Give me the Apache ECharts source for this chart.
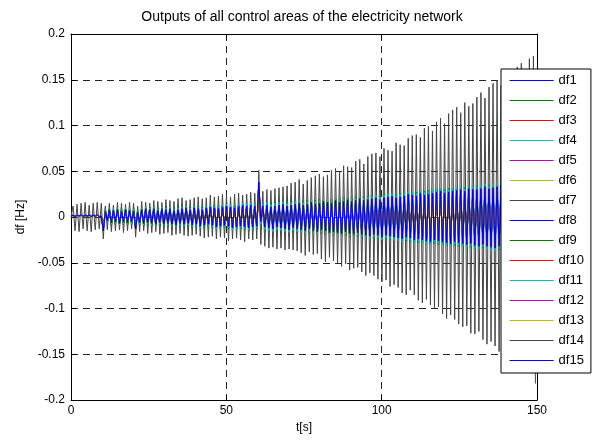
<!DOCTYPE html>
<html>
<head>
<meta charset="utf-8">
<script src="https://cdn.jsdelivr.net/npm/echarts@6/dist/echarts.min.js"></script>
<style>
html,body{margin:0;padding:0;background:#fff;}
#chart{width:593px;height:440px;}
</style>
</head>
<body>
<div id="chart"></div>
<script>
// sampling step of the traces (s)
const tStep = 0.65;
const xTicks = [0, 50, 100, 150];
const yTicks = [-0.2, -0.15, -0.1, -0.05, 0, 0.05, 0.1, 0.15, 0.2];
const seriesNames = ['df1','df2','df3','df4','df5','df6','df7','df8','df9','df10','df11','df12','df13','df14','df15'];
const seriesColors = ['#0000ff','#008000','#ff0000','#00bfbf','#bf00bf','#bfbf00','#454545','#0000ff','#008000','#ff0000','#00bfbf','#bf00bf','#bfbf00','#454545','#0000ff'];

// large growing oscillation (dark trace)
const dfBig = [
0,.012,-.015,.014,-.016,.015,-.013,.016,-.015,.013,
-.016,.015,-.014,.016,-.013,.015,-.024,.012,-.014,.015,
-.016,.013,-.015,.016,-.014,.015,-.017,.014,-.015,.016,
-.013,.015,-.022,.012,-.016,.017,-.015,.016,-.018,.015,
-.017,.018,-.016,.017,-.019,.016,-.018,.019,-.017,.018,
-.02,.017,-.019,.02,-.018,.021,-.02,.018,-.021,.019,
-.02,.021,-.019,.022,-.021,.02,-.023,.021,-.022,.024,
-.021,.022,-.024,.023,-.022,.025,-.023,.024,-.026,.022,
-.024,.025,-.023,.026,-.025,.024,-.027,.025,-.024,.027,
-.025,.026,-.024,.051,-.03,.028,-.032,.03,-.034,.029,
-.033,.031,-.035,.032,-.034,.033,-.036,.034,-.035,.037,
-.036,.038,-.037,.041,-.039,.036,-.042,.04,-.038,.043,
-.041,.045,-.04,.047,-.046,.044,-.049,.046,-.044,.051,
-.048,.053,-.05,.049,-.054,.056,-.051,.055,-.058,.054,
-.056,.061,-.055,.063,-.06,.058,-.064,.066,-.061,.069,
-.064,.07,-.068,.066,-.071,.075,-.069,.073,-.076,.072,
-.074,.081,-.077,.079,-.083,.078,-.085,.086,-.08,.089,
-.085,.09,-.091,.087,-.094,.097,-.09,.099,-.096,.094,
-.1,.104,-.098,.108,-.106,.102,-.111,.113,-.107,.117,
-.112,.12,-.117,.114,-.12,.125,-.119,.121,-.127,.124,
-.128,.131,-.125,.136,-.134,.13,-.139,.142,-.136,.146,
-.141,.149,-.147,.144,-.152,.155,-.148,.158,-.154,.152,
-.16,.164,-.157,.168,-.165,.161,-.17,.173,-.169,.176,-.182
];

// blue trace (drawn on top)
const dfBlue = [
.001,.002,.0005,.002,.001,.0025,.0005,.002,.001,.002,
.0005,.002,.001,.0025,.0005,.001,-.015,.006,-.004,.008,
-.006,.007,-.005,.008,-.007,.006,-.005,.008,-.006,.007,
-.005,.006,-.013,.005,-.006,.008,-.007,.009,-.006,.008,
-.007,.009,-.008,.007,-.006,.009,-.008,.008,-.007,.009,
-.008,.007,-.009,.008,-.007,.009,-.008,.01,-.007,.008,
-.009,.01,-.008,.009,-.01,.008,-.009,.01,-.008,.011,
-.009,.01,-.011,.009,-.01,.011,-.009,.012,-.01,.011,
-.012,.01,-.011,.012,-.01,.013,-.011,.012,-.012,.013,
-.011,.012,-.01,.038,-.005,.012,-.011,.013,-.012,.011,
-.013,.012,-.011,.013,-.012,.014,-.013,.012,-.014,.013,
-.012,.014,-.013,.015,-.014,.013,-.015,.014,-.013,.016,
-.015,.014,-.016,.015,-.014,.017,-.015,.016,-.017,.015,
-.016,.018,-.017,.016,-.018,.017,-.016,.019,-.018,.017,
-.019,.018,-.017,.02,-.019,.018,-.02,.019,-.021,.02,
-.019,.021,-.02,.019,-.022,.021,-.02,.022,-.021,.023,
-.022,.021,-.023,.022,-.024,.023,-.022,.025,-.023,.024,
-.025,.023,-.024,.026,-.025,.024,-.026,.025,-.027,.026,
-.025,.027,-.026,.028,-.027,.026,-.028,.027,-.029,.028,
-.027,.029,-.028,.03,-.029,.028,-.03,.031,-.029,.03,
-.031,.03,-.032,.031,-.03,.033,-.032,.031,-.033,.032,
-.034,.033,-.032,.035,-.033,.034,-.036,.035,-.034,.036,
-.035,.037,-.036,.035,-.037,.036,-.038,.037,-.036,.038,-.037
];

// cyan trace
const dfCyan = [
.001,.002,.0005,.002,.001,.0025,.0005,.002,.001,.002,
.0005,.002,.001,.0025,.0005,.001,-.013,.008,-.006,.009,
-.008,.009,-.007,.01,-.009,.008,-.007,.01,-.008,.009,
-.007,.008,-.012,.007,-.008,.01,-.009,.011,-.008,.01,
-.009,.011,-.01,.009,-.008,.011,-.01,.01,-.009,.011,
-.01,.009,-.011,.01,-.009,.011,-.01,.012,-.009,.01,
-.011,.012,-.01,.011,-.012,.01,-.011,.012,-.01,.013,
-.011,.012,-.013,.011,-.012,.013,-.011,.014,-.012,.013,
-.014,.012,-.013,.014,-.012,.015,-.013,.014,-.014,.015,
-.013,.014,-.012,.036,-.008,.015,-.014,.016,-.015,.014,
-.016,.015,-.014,.016,-.015,.017,-.016,.015,-.017,.016,
-.015,.017,-.016,.018,-.017,.016,-.018,.017,-.016,.019,
-.018,.017,-.019,.018,-.017,.02,-.018,.019,-.02,.018,
-.019,.021,-.02,.019,-.021,.02,-.019,.022,-.021,.02,
-.022,.021,-.02,.023,-.022,.021,-.023,.022,-.024,.023,
-.022,.024,-.023,.022,-.025,.024,-.023,.025,-.024,.026,
-.025,.024,-.026,.025,-.027,.026,-.025,.028,-.026,.027,
-.028,.026,-.027,.029,-.028,.027,-.029,.028,-.03,.029,
-.028,.03,-.029,.031,-.03,.029,-.031,.03,-.032,.031,
-.03,.032,-.031,.033,-.032,.031,-.033,.034,-.032,.033,
-.034,.033,-.035,.034,-.033,.036,-.035,.034,-.036,.035,
-.037,.036,-.035,.038,-.036,.037,-.039,.038,-.037,.039,
-.038,.04,-.039,.038,-.04,.039,-.041,.04,-.039,.041,-.04
];

// green trace
const dfGreen = [
.001,.0015,.0005,.002,.001,.002,.0005,.0015,.001,.002,
.0005,.0015,.001,.002,.0005,.001,-.014,.009,-.005,.008,
-.009,.008,-.008,.009,-.008,.009,-.008,.009,-.009,.008,
-.008,.009,-.011,.008,-.009,.009,-.01,.01,-.009,.011,
-.01,.01,-.009,.01,-.009,.01,-.011,.011,-.01,.01,
-.011,.01,-.01,.011,-.01,.01,-.011,.011,-.01,.011,
-.012,.011,-.011,.012,-.011,.011,-.012,.011,-.011,.012,
-.012,.013,-.012,.012,-.013,.012,-.012,.013,-.013,.012,
-.013,.013,-.014,.013,-.013,.014,-.014,.013,-.015,.014,
-.014,.013,-.013,.034,-.009,.014,-.015,.015,-.014,.015,
-.015,.016,-.015,.015,-.016,.016,-.015,.016,-.016,.017,
-.016,.016,-.017,.017,-.016,.017,-.017,.018,-.017,.018,
-.017,.018,-.018,.019,-.018,.019,-.019,.018,-.019,.019,
-.02,.02,-.019,.02,-.02,.021,-.02,.021,-.022,.021,
-.021,.022,-.021,.022,-.023,.022,-.022,.023,-.023,.024,
-.023,.023,-.024,.023,-.024,.025,-.024,.024,-.025,.025,
-.024,.025,-.025,.026,-.026,.025,-.026,.027,-.027,.026,
-.027,.027,-.028,.028,-.027,.028,-.028,.029,-.029,.028,
-.029,.029,-.03,.03,-.029,.03,-.03,.031,-.031,.03,
-.031,.031,-.032,.032,-.031,.032,-.032,.033,-.033,.032,
-.033,.034,-.034,.033,-.034,.035,-.034,.035,-.035,.034,
-.036,.035,-.036,.037,-.036,.036,-.037,.037,-.038,.037,
-.037,.038,-.038,.039,-.039,.038,-.04,.039,-.04,.04,-.041
];

// red trace
const dfRed = [
.001,.002,.0005,.002,.001,.0025,.0005,.002,.001,.002,
.0005,.002,.001,.0025,.0005,.001,-.008,.004,-.003,.005,
-.004,.005,-.003,.005,-.004,.004,-.003,.005,-.004,.004,
-.003,.004,-.008,.003,-.004,.005,-.004,.005,-.004,.005,
-.004,.005,-.005,.004,-.004,.005,-.005,.005,-.004,.005,
-.005,.004,-.005,.005,-.004,.005,-.005,.006,-.004,.005,
-.005,.006,-.005,.005,-.006,.005,-.005,.006,-.005,.006,
-.005,.006,-.006,.005,-.006,.006,-.005,.007,-.006,.006,
-.007,.006,-.006,.007,-.006,.007,-.006,.007,-.007,.007,
-.006,.007,-.006,.02,-.004,.007,-.007,.008,-.007,.007,
-.008,.007,-.007,.008,-.007,.008,-.008,.007,-.008,.008,
-.007,.008,-.008,.009,-.008,.008,-.009,.008,-.008,.009,
-.009,.008,-.009,.009,-.008,.01,-.009,.009,-.01,.009,
-.009,.01,-.01,.009,-.01,.01,-.009,.011,-.01,.01,
-.011,.01,-.01,.011,-.011,.01,-.011,.011,-.012,.011,
-.011,.012,-.011,.011,-.012,.012,-.011,.012,-.012,.013,
-.012,.012,-.013,.012,-.013,.013,-.012,.014,-.013,.013,
-.014,.013,-.013,.014,-.014,.013,-.014,.014,-.015,.014,
-.014,.015,-.014,.015,-.015,.014,-.015,.015,-.016,.015,
-.015,.016,-.015,.016,-.016,.015,-.016,.017,-.016,.016,
-.017,.016,-.017,.017,-.016,.018,-.017,.017,-.018,.017,
-.018,.018,-.017,.019,-.018,.018,-.019,.019,-.018,.019,
-.019,.02,-.019,.019,-.02,.02,-.02,.02,-.019,.021,-.02
];

const seriesValues = [dfBlue, dfGreen, dfRed, dfCyan, dfRed, dfRed, dfBig, dfBlue, dfGreen, dfRed, dfCyan, dfBlue, dfBlue, dfBlue, dfBlue];

const FONT = "'Liberation Sans', Arial, sans-serif";
const chart = echarts.init(document.getElementById('chart'), null, {renderer: 'canvas'});

const makeData = vals => vals.map((v, i) => [+(i * tStep).toFixed(3), v]);
const fmt = v => String(+(+v).toFixed(2));

const gridLine = {show: true, lineStyle: {color: '#222', type: [7, 5], width: 1}};
const axLine = {show: true, onZero: false, lineStyle: {color: '#000', width: 1}};
const tick = {show: true, inside: true, length: 5, lineStyle: {color: '#000'}};

chart.setOption({
  animation: false,
  backgroundColor: '#fff',
  title: {
    text: 'Outputs of all control areas of the electricity network',
    left: 297, top: 5, textAlign: 'center',
    textStyle: {fontFamily: FONT, fontSize: 14, fontWeight: 'normal', color: '#000'}
  },
  grid: {left: 71, right: 56, top: 34, bottom: 40, containLabel: false},
  legend: {
    data: seriesNames,
    orient: 'vertical',
    left: 501, top: 69,
    padding: [5, 7, 6, 8],
    itemGap: 7, itemWidth: 44, itemHeight: 13,
    borderColor: '#000', borderWidth: 1, backgroundColor: '#fff',
    selectedMode: false,
    itemStyle: {opacity: 0},
    lineStyle: {width: 1.2},
    textStyle: {fontFamily: FONT, fontSize: 13, color: '#000'}
  },
  xAxis: [{
    type: 'value', min: xTicks[0], max: xTicks[xTicks.length - 1], interval: 50,
    name: 't[s]', nameLocation: 'middle', nameGap: 19,
    nameTextStyle: {fontFamily: FONT, fontSize: 12, color: '#000'},
    axisLine: axLine, axisTick: tick,
    axisLabel: {fontFamily: FONT, fontSize: 12, color: '#000', margin: 5},
    splitLine: gridLine
  }, {
    type: 'value', position: 'top', min: xTicks[0], max: xTicks[xTicks.length - 1], interval: 50,
    axisLine: axLine, axisTick: tick, axisLabel: {show: false}, splitLine: {show: false}
  }],
  yAxis: [{
    type: 'value', min: yTicks[0], max: yTicks[yTicks.length - 1], interval: 0.05,
    name: 'df [Hz]', nameLocation: 'middle', nameGap: 44, nameRotate: 90,
    nameTextStyle: {fontFamily: FONT, fontSize: 12, color: '#000'},
    axisLine: axLine, axisTick: tick,
    axisLabel: {fontFamily: FONT, fontSize: 12, color: '#000', margin: 6, formatter: fmt},
    splitLine: gridLine
  }, {
    type: 'value', position: 'right', min: yTicks[0], max: yTicks[yTicks.length - 1], interval: 0.05,
    axisLine: axLine, axisTick: tick, axisLabel: {show: false}, splitLine: {show: false}
  }],
  series: seriesNames.map((name, k) => ({
    name: name,
    type: 'line',
    xAxisIndex: 0, yAxisIndex: 0,
    data: makeData(seriesValues[k]),
    symbol: 'none', showSymbol: false,
    color: seriesColors[k],
    lineStyle: {width: 1, color: seriesColors[k]},
    silent: true
  }))
});
</script>
</body>
</html>
